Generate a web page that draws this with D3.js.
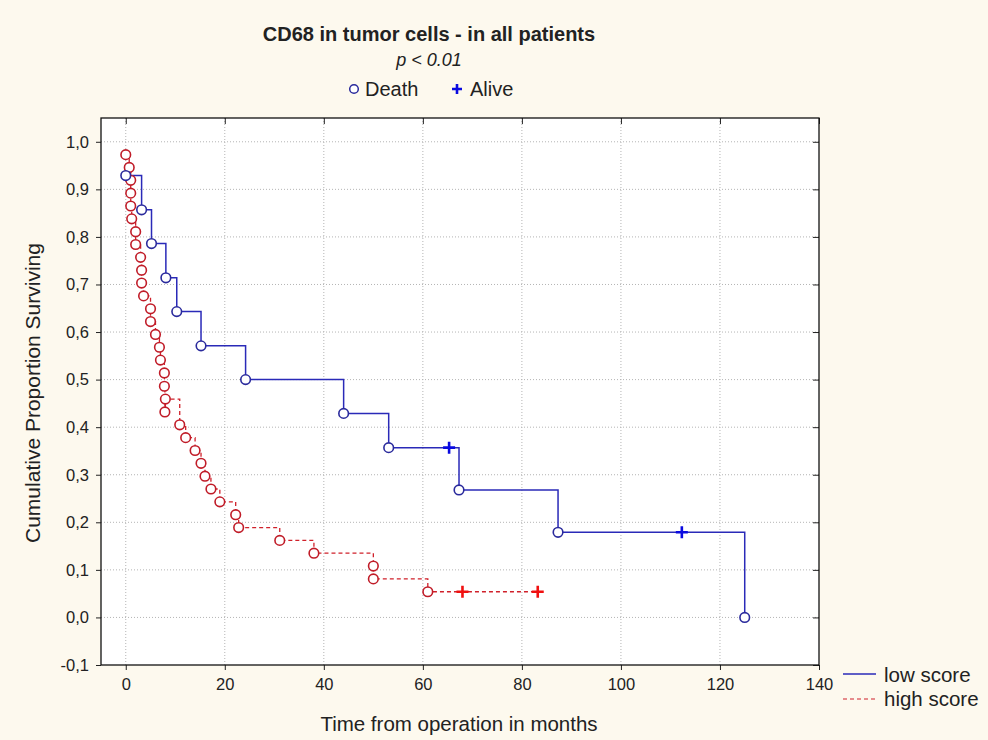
<!DOCTYPE html>
<html>
<head>
<meta charset="utf-8">
<script src="https://cdn.jsdelivr.net/npm/d3@7"></script>
<style>
html,body{margin:0;padding:0;background:#fdf9ee;}
svg{display:block;}
text{font-family:"Liberation Sans",Arial,sans-serif;fill:#222;}
</style>
</head>
<body>
<svg id="chart" width="988" height="740"></svg>
<script>
// ---- data ----
const title = "CD68 in tumor cells - in all patients";
const subtitle = "p < 0.01";
const xLabel = "Time from operation in months";
const yLabel = "Cumulative Proportion Surviving";
const xTicks = [0, 20, 40, 60, 80, 100, 120, 140];
const yTicks = [-0.1, 0.0, 0.1, 0.2, 0.3, 0.4, 0.5, 0.6, 0.7, 0.8, 0.9, 1.0];
const seriesNames = ["low score", "high score"];
const markerNames = ["Death", "Alive"];

// low score: time (months), survival, event (1 = death, 0 = censored/alive)
const lowTime  = [0, 3.2, 5.2, 8.1, 10.3, 15.2, 24.2, 44.0, 53.1, 65.3, 67.3, 87.3, 112.3, 125.0];
const lowSurv  = [0.929, 0.857, 0.786, 0.714, 0.643, 0.571, 0.500, 0.429, 0.357, 0.357, 0.268, 0.179, 0.179, 0.0];
const lowEvent = [1, 1, 1, 1, 1, 1, 1, 1, 1, 0, 1, 1, 0, 1];

// high score
const highTime = [0, 0.7, 1.0, 1.0, 1.0, 1.2, 2.0, 2.0, 3.0, 3.2, 3.2, 3.6, 5.0, 5.0, 6.0, 6.8, 7.0, 7.8, 7.8, 8.0, 7.9,
                  10.9, 12.1, 14.0, 15.2, 16.0, 17.2, 19.0, 22.2, 22.8, 31.1, 38.0, 50.0, 50.0, 61.0, 68.0, 83.2];
const highSurv = [0.973, 0.946, 0.919, 0.892, 0.865, 0.838, 0.811, 0.784, 0.757, 0.730, 0.703, 0.676, 0.649, 0.622,
                  0.595, 0.568, 0.541, 0.514, 0.486, 0.459, 0.432, 0.405, 0.378, 0.351, 0.324, 0.297, 0.270, 0.243,
                  0.216, 0.189, 0.162, 0.135, 0.108, 0.081, 0.054, 0.054, 0.054];
const highEvent = [1,1,1,1,1,1,1,1,1,1,1,1,1,1,1,1,1,1,1,1,1,1,1,1,1,1,1,1,1,1,1,1,1,1,1,0,0];

// ---- layout ----
const svg = d3.select("#chart");
const L = 101, R = 819, T = 118, B = 665;
const x = d3.scaleLinear().domain([-5, 140]).range([L, R]);
const y = d3.scaleLinear().domain([-0.1, 1.05]).range([B, T]);

const BLUE_LINE = "#2a2ab8", BLUE_MK = "#2a2a9c", BLUE_CROSS = "#0a0ae0";
const RED_LINE = "#d0202a", RED_MK = "#c01c28", RED_CROSS = "#f01010";

// plot background
svg.append("rect").attr("x", L).attr("y", T).attr("width", R - L).attr("height", B - T).attr("fill", "#ffffff");

// grid
const grid = svg.append("g").attr("stroke", "#b4b4b4").attr("stroke-width", 1).attr("stroke-dasharray", "1,2");
xTicks.filter(v => v < 140).forEach(v => {
  grid.append("line").attr("x1", x(v)).attr("x2", x(v)).attr("y1", T).attr("y2", B);
});
yTicks.filter(v => v > -0.1).forEach(v => {
  grid.append("line").attr("x1", L).attr("x2", R).attr("y1", y(v)).attr("y2", y(v));
});

// axes
const fmt = d => d3.format(".1f")(d).replace(".", ",").replace("−", "-");
const xAxis = d3.axisBottom(x).tickValues(xTicks).tickSize(5).tickSizeOuter(0).tickPadding(8).tickFormat(d3.format("d"));
const yAxis = d3.axisLeft(y).tickValues(yTicks).tickSize(5).tickSizeOuter(0).tickPadding(7).tickFormat(fmt);
const gx = svg.append("g").attr("transform", `translate(0,${B})`).call(xAxis);
const gy = svg.append("g").attr("transform", `translate(${L},0)`).call(yAxis);
[gx, gy].forEach(g => {
  g.select(".domain").remove();
  g.selectAll(".tick line").attr("stroke", "#222");
  g.selectAll(".tick text").style("font-size", "16.5px").attr("fill", "#333");
});
// mirror ticks top/right (inward)
const gt = svg.append("g").attr("transform", `translate(0,${T})`).call(d3.axisBottom(x).tickValues(xTicks).tickSize(6).tickSizeOuter(0).tickFormat(""));
gt.select(".domain").remove(); gt.selectAll(".tick line").attr("stroke", "#222");
const gr = svg.append("g").attr("transform", `translate(${R},0)`).call(d3.axisLeft(y).tickValues(yTicks).tickSize(6).tickSizeOuter(0).tickFormat(""));
gr.select(".domain").remove(); gr.selectAll(".tick line").attr("stroke", "#222");

// frame
svg.append("rect").attr("x", L).attr("y", T).attr("width", R - L).attr("height", B - T)
  .attr("fill", "none").attr("stroke", "#111").attr("stroke-width", 1.3);

// step lines
const stepLine = d3.line().x(d => x(d[0])).y(d => y(d[1])).curve(d3.curveStepAfter);
function series(times, surv, ev) {
  return times.map((t, i) => [t, surv[i], ev[i]]);
}
const low = series(lowTime, lowSurv, lowEvent);
const high = series(highTime, highSurv, highEvent);
const sortT = arr => arr.slice().sort((a, b) => a[0] - b[0] || b[1] - a[1]);

svg.append("path").datum(sortT(high)).attr("d", stepLine)
  .attr("fill", "none").attr("stroke", RED_LINE).attr("stroke-width", 1.3).attr("stroke-dasharray", "4,3");
svg.append("path").datum(sortT(low)).attr("d", stepLine)
  .attr("fill", "none").attr("stroke", BLUE_LINE).attr("stroke-width", 1.5);

// markers
function drawMarkers(data, mk, cross) {
  svg.append("g").selectAll("circle").data(data.filter(d => d[2] === 1)).join("circle")
    .attr("cx", d => x(d[0])).attr("cy", d => y(d[1])).attr("r", 4.8)
    .attr("fill", "#fff").attr("stroke", mk).attr("stroke-width", 1.6);
  svg.append("g").selectAll("path").data(data.filter(d => d[2] === 0)).join("path")
    .attr("d", d => `M${x(d[0]) - 6},${y(d[1])}H${x(d[0]) + 6}M${x(d[0])},${y(d[1]) - 6}V${y(d[1]) + 6}`)
    .attr("stroke", cross).attr("stroke-width", 2.6).attr("fill", "none");
}
drawMarkers(high, RED_MK, RED_CROSS);
drawMarkers(low, BLUE_MK, BLUE_CROSS);

// titles
svg.append("text").attr("x", 429).attr("y", 41).attr("text-anchor", "middle")
  .style("font-size", "20px").style("font-weight", "bold").attr("fill", "#111").text(title);
svg.append("text").attr("x", 429).attr("y", 66).attr("text-anchor", "middle")
  .style("font-size", "18px").style("font-style", "italic").attr("fill", "#333").text(subtitle);

// top legend
svg.append("circle").attr("cx", 354).attr("cy", 89).attr("r", 4.3).attr("fill", "#fff").attr("stroke", BLUE_MK).attr("stroke-width", 1.5);
svg.append("text").attr("x", 365).attr("y", 96).style("font-size", "20px").attr("fill", "#333").text(markerNames[0]);
svg.append("path").attr("d", "M452,89H462M457,84V94").attr("stroke", BLUE_CROSS).attr("stroke-width", 2.6);
svg.append("text").attr("x", 470).attr("y", 96).style("font-size", "20px").attr("fill", "#333").text(markerNames[1]);

// axis titles
svg.append("text").attr("x", 459).attr("y", 731).attr("text-anchor", "middle")
  .style("font-size", "20.5px").attr("fill", "#333").text(xLabel);
svg.append("text").attr("transform", "translate(40,393) rotate(-90)").attr("text-anchor", "middle")
  .style("font-size", "21px").attr("fill", "#333").text(yLabel);

// series legend
svg.append("line").attr("x1", 843).attr("x2", 876).attr("y1", 674).attr("y2", 674).attr("stroke", BLUE_LINE).attr("stroke-width", 1.5);
svg.append("text").attr("x", 884).attr("y", 682).style("font-size", "20.5px").attr("fill", "#333").text(seriesNames[0]);
svg.append("line").attr("x1", 843).attr("x2", 876).attr("y1", 699).attr("y2", 699).attr("stroke", RED_LINE).attr("stroke-width", 1.2).attr("stroke-dasharray", "4,3");
svg.append("text").attr("x", 884).attr("y", 706).style("font-size", "20.5px").attr("fill", "#333").text(seriesNames[1]);
</script>
</body>
</html>
